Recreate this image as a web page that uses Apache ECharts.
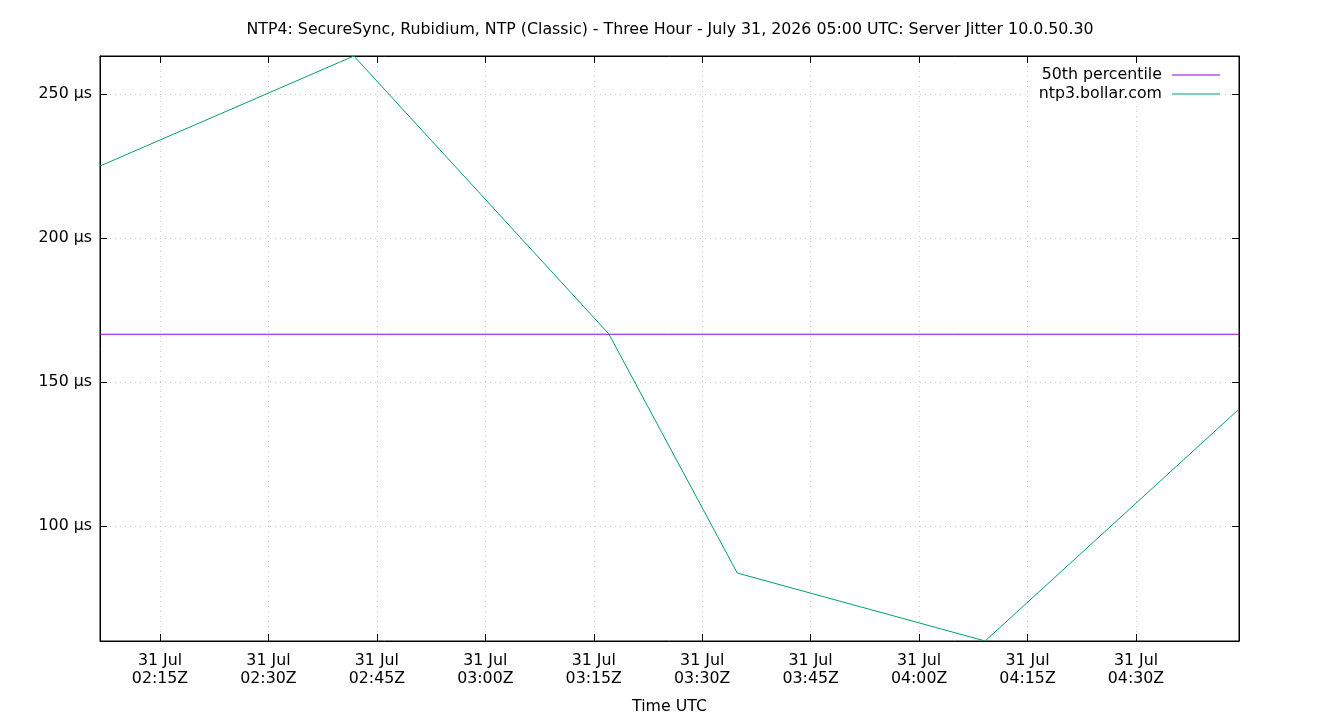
<!DOCTYPE html>
<html>
<head>
<meta charset="utf-8">
<script src="https://cdn.jsdelivr.net/npm/echarts@6/dist/echarts.min.js"></script>
<style>
  html, body { margin: 0; padding: 0; background: #fff; }
  #chart { width: 1340px; height: 720px; }
</style>
</head>
<body>
<div id="chart"></div>
<script>
// jitter samples
const times = ['2026-07-31T02:06:42Z', '2026-07-31T02:41:49Z', '2026-07-31T03:17:05Z',
               '2026-07-31T03:34:51Z', '2026-07-31T04:09:08Z', '2026-07-31T04:44:15Z'];
const jitter = [225.0, 263.2, 166.7, 83.7, 60.1, 140.6];
const median = 166.6;
const xTicks = ['02:15', '02:30', '02:45', '03:00', '03:15', '03:30', '03:45', '04:00', '04:15', '04:30'];
const yTicks = [100, 150, 200, 250];

const font = 'DejaVu Sans';
const fs = 15.8;
const ms = t => new Date(t).getTime();
const tMin = ms(times[0]);
const tMax = ms(times[times.length - 1]);
const xTickVals = xTicks.map(h => ms('2026-07-31T' + h + ':00Z'));
const pad = n => (n < 10 ? '0' : '') + n;
const months = ['Jan','Feb','Mar','Apr','May','Jun','Jul','Aug','Sep','Oct','Nov','Dec'];

const chart = echarts.init(document.getElementById('chart'));

const tickStyle = { show: true, inside: true, length: 7, lineStyle: { color: '#000' } };
const gridLine = { show: true, lineStyle: { color: '#c8c8c8', type: [1, 4], width: 1 } };

const option = {
  animation: false,
  textStyle: { fontFamily: font, color: '#000' },
  title: {
    text: 'NTP4: SecureSync, Rubidium, NTP (Classic) - Three Hour - July 31, 2026 05:00 UTC: Server Jitter 10.0.50.30',
    left: 'center',
    top: 17,
    textStyle: { fontFamily: font, fontSize: fs, fontWeight: 'normal', color: '#000' }
  },
  grid: {
    left: 100, right: 101, top: 56, bottom: 79,
    show: true, borderColor: '#000', borderWidth: 1
  },
  legend: {
    orient: 'vertical',
    right: 118,
    top: 64,
    align: 'right',
    icon: 'rect',
    itemWidth: 48,
    itemHeight: 1,
    itemGap: 1,
    backgroundColor: '#fff',
    padding: [2, 2, 2, 10],
    textStyle: { fontFamily: font, fontSize: fs, color: '#000', lineHeight: 18 },
    formatter: n => n + ' ',
    data: ['50th percentile', 'ntp3.bollar.com']
  },
  xAxis: [
    {
      type: 'value',
      min: tMin,
      max: tMax,
      name: 'Time UTC',
      nameLocation: 'middle',
      nameGap: 58,
      nameTextStyle: { fontFamily: font, fontSize: fs, color: '#000' },
      axisLine: { show: true, lineStyle: { color: '#000' } },
      axisTick: Object.assign({ customValues: xTickVals }, tickStyle),
      splitLine: gridLine,
      axisLabel: {
        customValues: xTickVals,
        fontFamily: font, fontSize: fs, color: '#000',
        lineHeight: 18, margin: 11,
        formatter: v => {
          const d = new Date(v);
          return d.getUTCDate() + ' ' + months[d.getUTCMonth()] + '\n' +
            pad(d.getUTCHours()) + ':' + pad(d.getUTCMinutes()) + 'Z';
        }
      }
    },
    {
      type: 'value',
      position: 'top',
      min: tMin,
      max: tMax,
      axisLine: { show: true, lineStyle: { color: '#000' } },
      axisTick: Object.assign({ customValues: xTickVals }, tickStyle),
      axisLabel: { show: false },
      splitLine: { show: false }
    }
  ],
  yAxis: [
    {
      type: 'value',
      min: Math.min(...jitter),
      max: Math.max(...jitter),
      axisLine: { show: true, lineStyle: { color: '#000' } },
      axisTick: Object.assign({ customValues: yTicks }, tickStyle),
      splitLine: gridLine,
      axisLabel: {
        customValues: yTicks,
        fontFamily: font, fontSize: fs, color: '#000', margin: 8,
        formatter: v => v + ' µs'
      }
    },
    {
      type: 'value',
      position: 'right',
      min: Math.min(...jitter),
      max: Math.max(...jitter),
      axisLine: { show: true, lineStyle: { color: '#000' } },
      axisTick: Object.assign({ customValues: yTicks }, tickStyle),
      axisLabel: { show: false },
      splitLine: { show: false }
    }
  ],
  series: [
    {
      name: '50th percentile',
      type: 'line',
      symbol: 'none',
      color: '#9400d3',
      lineStyle: { width: 1, color: '#9400d3' },
      data: [[tMin, median], [tMax, median]]
    },
    {
      name: 'ntp3.bollar.com',
      type: 'line',
      symbol: 'none',
      color: '#009e73',
      lineStyle: { width: 1, color: '#009e73' },
      data: times.map((t, i) => [ms(t), jitter[i]])
    }
  ]
};

chart.setOption(option);
</script>
</body>
</html>
